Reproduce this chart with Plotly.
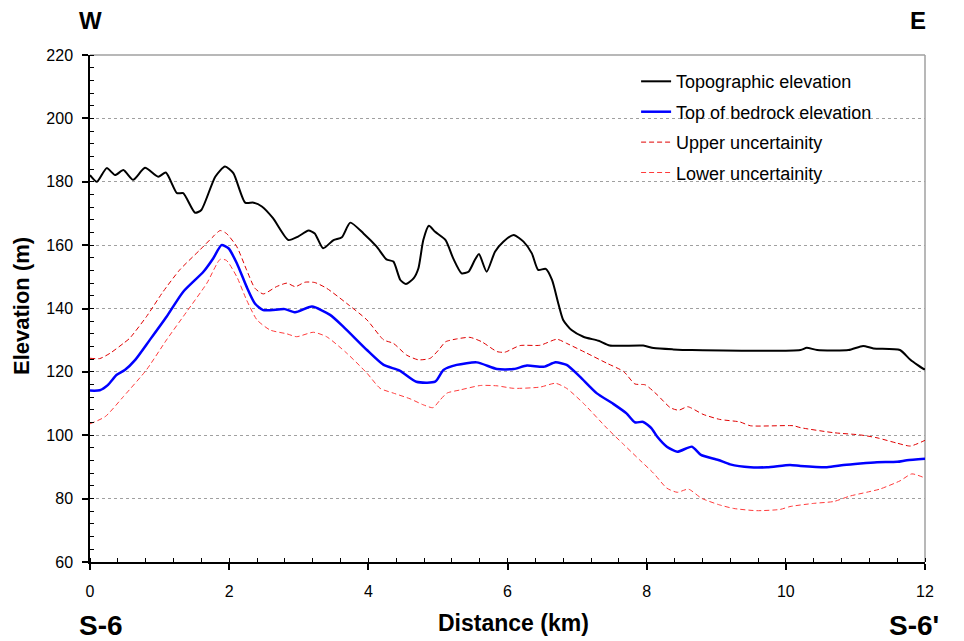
import plotly.graph_objects as go

# ---------------- data ----------------
topo_km = [0, 0.10, 0.24, 0.36, 0.48, 0.62, 0.79, 0.98, 1.09, 1.25, 1.34, 1.51, 1.60, 1.80, 1.94,
           2.06, 2.23, 2.35, 2.47, 2.63, 2.85, 2.99, 3.14, 3.23, 3.35, 3.50, 3.62, 3.74, 3.93, 4.12,
           4.26, 4.36, 4.46, 4.54, 4.65, 4.72, 4.79, 4.87, 4.96, 5.11, 5.22, 5.34, 5.44, 5.53, 5.59,
           5.70, 5.82, 5.94, 6.09, 6.23, 6.35, 6.44, 6.55, 6.64, 6.73, 6.80, 6.92, 7.09, 7.31, 7.47,
           7.95, 8.10, 8.38, 8.65, 10.21, 10.30, 10.45, 10.90, 11.11, 11.26, 11.64, 11.79, 11.98, 12.0]
topo_elev = [182.1, 180.0, 184.3, 182.1, 183.7, 180.6, 184.4, 181.6, 182.9, 176.4, 176.4, 170.2, 171.1, 181.6, 184.8,
             182.7, 173.4, 173.4, 172.2, 168.5, 161.6, 162.7, 164.6, 163.7, 159.0, 161.6, 162.5, 167.1, 163.7, 159.5,
             155.5, 154.8, 149.0, 147.7, 149.5, 152.7, 161.6, 166.1, 164.2, 161.6, 155.8, 151.1, 151.6, 155.3, 157.2,
             151.6, 157.9, 161.1, 163.2, 161.1, 157.4, 152.2, 152.5, 149.0, 141.6, 136.4, 133.2, 131.1, 129.8, 128.3,
             128.3, 127.5, 127.1, 126.9, 126.9, 127.6, 126.9, 126.9, 128.2, 127.4, 126.9, 123.8, 120.9, 120.8]

bed_km = [0, 0.14, 0.26, 0.38, 0.50, 0.65, 0.86, 1.10, 1.34, 1.63, 1.77, 1.89, 1.99, 2.11, 2.25, 2.37,
          2.49, 2.80, 2.95, 3.19, 3.45, 3.64, 3.98, 4.22, 4.45, 4.69, 4.96, 5.08, 5.27, 5.56, 5.85,
          6.09, 6.28, 6.52, 6.69, 6.85, 7.04, 7.28, 7.52, 7.71, 7.83, 7.95, 8.07, 8.15, 8.29, 8.44,
          8.65, 8.78, 9.03, 9.20, 9.49, 9.73, 10.06, 10.21, 10.59, 10.83, 11.07, 11.31, 11.60, 11.74, 12.0]
bed_elev = [114.1, 114.2, 115.9, 119.0, 120.6, 123.8, 130.1, 137.4, 145.3, 151.6, 155.8, 160.0, 159.0, 154.3, 146.9, 141.6,
            139.5, 139.8, 138.8, 140.6, 138.0, 134.3, 126.9, 122.2, 120.4, 116.9, 116.9, 120.6, 122.2, 123.0, 120.9,
            120.9, 122.0, 121.6, 123.0, 122.2, 118.5, 113.3, 109.9, 106.9, 104.1, 104.2, 102.2, 99.6, 96.4, 94.8,
            96.4, 93.8, 92.2, 90.8, 89.9, 89.9, 90.6, 90.3, 89.9, 90.6, 91.1, 91.5, 91.6, 92.1, 92.6]

upper_km = [0, 0.14, 0.29, 0.48, 0.57, 0.81, 1.05, 1.29, 1.58, 1.77, 1.87, 1.96, 2.11, 2.25, 2.37, 2.49,
            2.68, 2.83, 2.95, 3.09, 3.23, 3.40, 3.69, 3.98, 4.22, 4.36, 4.55, 4.72, 4.89, 5.01, 5.11,
            5.27, 5.46, 5.63, 5.85, 5.96, 6.18, 6.47, 6.71, 6.85, 7.14, 7.43, 7.67, 7.83, 7.98, 8.15,
            8.34, 8.46, 8.59, 8.81, 9.05, 9.34, 9.49, 10.11, 10.21, 10.69, 11.07, 11.31, 11.60, 11.79, 12.0]
upper_elev = [124.3, 124.2, 125.9, 129.0, 130.6, 137.4, 145.3, 152.2, 158.5, 162.7, 164.6, 163.7, 159.5, 152.2, 146.4, 144.6,
              146.9, 148.0, 146.9, 148.3, 148.2, 146.4, 141.6, 136.4, 130.1, 129.0, 125.3, 123.8, 124.3, 126.9, 129.5,
              130.4, 130.9, 129.5, 126.4, 126.2, 128.3, 128.4, 130.3, 129.0, 125.9, 122.7, 120.1, 116.2, 115.9, 112.8,
              108.7, 107.9, 109.0, 106.6, 105.0, 104.2, 103.0, 103.0, 102.4, 100.8, 100.1, 99.2, 97.5, 96.6, 98.4]

lower_km = [0, 0.22, 0.48, 0.81, 1.10, 1.39, 1.68, 1.87, 1.96, 2.11, 2.25, 2.40, 2.59, 2.83, 2.97, 3.21,
            3.40, 3.69, 3.98, 4.17, 4.36, 4.60, 4.79, 4.93, 5.03, 5.13, 5.32, 5.61, 5.85, 6.09, 6.47,
            6.69, 6.85, 7.09, 7.43, 7.65, 7.90, 8.10, 8.29, 8.44, 8.60, 8.79, 9.05, 9.25, 9.58, 9.92,
            10.06, 10.40, 10.69, 10.92, 11.16, 11.35, 11.64, 11.81, 12.0]
lower_elev = [103.6, 105.9, 112.2, 120.6, 130.1, 139.0, 148.0, 155.5, 155.2, 150.0, 142.7, 136.4, 133.2, 132.0, 131.1, 132.5,
              131.1, 125.9, 119.6, 114.8, 113.3, 111.5, 109.6, 108.7, 111.1, 113.3, 114.3, 115.7, 115.6, 114.8, 115.2,
              116.4, 114.8, 110.1, 102.2, 97.5, 92.2, 88.0, 83.3, 82.0, 83.0, 80.1, 78.0, 76.9, 76.2, 76.6,
              77.5, 78.5, 79.1, 80.8, 82.0, 83.0, 85.6, 87.8, 86.5]

series_names = ["Topographic elevation", "Top of bedrock elevation",
                "Upper uncertainity", "Lower uncertainity"]

FONT = "Liberation Sans, Arial, sans-serif"

fig = go.Figure()
fig.add_trace(go.Scatter(x=topo_km, y=topo_elev, mode="lines", name=series_names[0],
                         legendgroup="a", line=dict(color="black", width=2, shape="spline", smoothing=0.6)))
fig.add_trace(go.Scatter(x=bed_km, y=bed_elev, mode="lines", name=series_names[1],
                         legendgroup="b", line=dict(color="#0000ff", width=2.5, shape="spline", smoothing=0.6)))
fig.add_trace(go.Scatter(x=upper_km, y=upper_elev, mode="lines", name=series_names[2],
                         legendgroup="c", line=dict(color="#e00000", width=1, dash="5px,3px",
                                                    shape="spline", smoothing=0.6)))
fig.add_trace(go.Scatter(x=lower_km, y=lower_elev, mode="lines", name=series_names[3],
                         legendgroup="d", line=dict(color="#ff3b3b", width=1, dash="5px,3px",
                                                    shape="spline", smoothing=0.6)))

# The page body has an 8px margin, so the figure is sized to fill the rest of the window.
fig.update_layout(
    width=956, height=633,
    margin=dict(l=82, r=39, t=47, b=79),
    paper_bgcolor="white", plot_bgcolor="white",
    font=dict(family=FONT, size=16, color="black"),
    showlegend=True,
    legend=dict(x=0.654, y=0.984, xanchor="left", yanchor="top",
                bgcolor="rgba(0,0,0,0)", borderwidth=0,
                font=dict(family=FONT, size=18, color="black"),
                traceorder="grouped", tracegroupgap=4),
    xaxis=dict(range=[0, 12], tick0=0, dtick=2, ticks="outside", ticklen=6, tickwidth=1.5,
               tickcolor="black", showline=True, linecolor="black", linewidth=1.5,
               showgrid=False, zeroline=False, ticklabelstandoff=8,
               tickfont=dict(family=FONT, size=16),
               minor=dict(dtick=0.4, ticks="inside", ticklen=4, tickcolor="black", tickwidth=1,
                          showgrid=False)),
    yaxis=dict(range=[60, 220], tick0=60, dtick=20, ticks="outside", ticklen=6, tickwidth=1.5,
               tickcolor="black", showline=True, linecolor="black", linewidth=1.5,
               showgrid=True, gridcolor="#a0a0a0", griddash="3px,3px", gridwidth=1,
               zeroline=False, ticklabelstandoff=6,
               tickfont=dict(family=FONT, size=16),
               minor=dict(dtick=4, ticks="inside", ticklen=4, tickcolor="black", tickwidth=1,
                          showgrid=False)),
    shapes=[
        # white legend area masking grid lines
        dict(type="rect", xref="paper", yref="paper", x0=0.608, x1=0.989, y0=0.724, y1=1.0,
             fillcolor="white", line=dict(width=0), layer="between"),
        # gray top and right borders
        dict(type="line", xref="paper", yref="paper", x0=0, x1=1, y0=1, y1=1,
             line=dict(color="#a0a0a0", width=1.5), layer="between"),
        dict(type="line", xref="paper", yref="paper", x0=1, x1=1, y0=0, y1=1,
             line=dict(color="#a0a0a0", width=1.5), layer="between"),
    ],
    annotations=[
        dict(text="<b>W</b>", xref="paper", yref="paper", x=0.0, y=1.069, showarrow=False,
             xanchor="center", yanchor="middle", font=dict(size=24)),
        dict(text="<b>E</b>", xref="paper", yref="paper", x=0.9916, y=1.069, showarrow=False,
             xanchor="center", yanchor="middle", font=dict(size=24)),
        dict(text="<b>S-6</b>", xref="paper", yref="paper", x=0.013, y=-0.126, showarrow=False,
             xanchor="center", yanchor="middle", font=dict(size=28)),
        dict(text="<b>S-6'</b>", xref="paper", yref="paper", x=0.987, y=-0.126, showarrow=False,
             xanchor="center", yanchor="middle", font=dict(size=28)),
        dict(text="<b>Distance (km)</b>", xref="paper", yref="paper", x=0.507, y=-0.120,
             showarrow=False, xanchor="center", yanchor="middle", font=dict(size=23)),
        dict(text="<b>Elevation (m)</b>", xref="paper", yref="paper", x=-0.0814, y=0.505,
             showarrow=False, xanchor="center", yanchor="middle", textangle=-90,
             font=dict(size=22)),
    ],
)

fig.write_html("out.html")
